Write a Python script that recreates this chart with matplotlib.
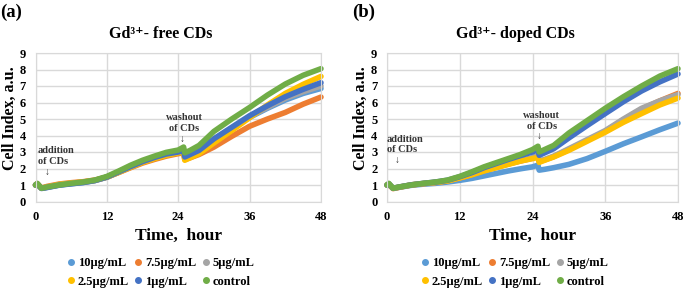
import numpy as np
import matplotlib
matplotlib.use('Agg')
import matplotlib.pyplot as plt
from matplotlib.lines import Line2D

plt.rcParams['font.family'] = ['Liberation Serif', 'DejaVu Sans']
plt.rcParams['font.weight'] = 'bold'

# time points, hours
time = [0, 0.3, 1, 2, 4, 6, 8, 10, 12, 14, 16, 18, 20, 22, 24, 24.9,
        25.1, 26, 27.5, 30, 33, 36, 39, 42, 45, 48]

labels = ['10μg/mL', '7.5μg/mL', '5μg/mL', '2.5μg/mL', '1μg/mL', 'control']
colors = ['#5B9BD5', '#ED7D31', '#A5A5A5', '#FFC000', '#4472C4', '#70AD47']

# (a) Gd3+ free CDs
free_10 = [1.0, 1.05, 0.8, 0.86, 1.0, 1.08, 1.15, 1.27, 1.47, 1.78, 2.1, 2.4, 2.65, 2.85,
           3.0, 3.08, 2.68, 2.83, 3.08, 3.75, 4.45, 5.1, 5.65, 6.15, 6.55, 6.85]
free_7_5 = [1.0, 1.08, 0.82, 0.92, 1.06, 1.14, 1.2, 1.3, 1.48, 1.76, 2.05, 2.33, 2.55, 2.75,
            2.9, 2.95, 2.55, 2.65, 2.85, 3.3, 3.95, 4.56, 5.0, 5.4, 5.9, 6.33]
free_5 = [1.0, 1.05, 0.8, 0.87, 1.02, 1.1, 1.17, 1.28, 1.48, 1.78, 2.1, 2.4, 2.63, 2.83,
          2.98, 3.05, 2.62, 2.77, 3.0, 3.65, 4.4, 5.15, 5.7, 6.25, 6.65, 7.0]
free_2_5 = [1.0, 1.05, 0.8, 0.88, 1.03, 1.11, 1.18, 1.28, 1.48, 1.77, 2.08, 2.37, 2.6, 2.8,
            2.95, 3.0, 2.5, 2.65, 2.9, 3.55, 4.3, 5.08, 5.85, 6.55, 7.1, 7.58]
free_1 = [1.0, 1.05, 0.79, 0.85, 0.99, 1.07, 1.15, 1.27, 1.48, 1.8, 2.12, 2.42, 2.67, 2.88,
          3.0, 3.1, 2.7, 2.85, 3.1, 3.8, 4.5, 5.2, 5.8, 6.35, 6.8, 7.2]
free_ctrl = [1.0, 1.1, 0.8, 0.88, 1.0, 1.1, 1.18, 1.3, 1.52, 1.85, 2.2, 2.5, 2.75, 2.98,
             3.12, 3.3, 2.95, 3.1, 3.4, 4.25, 5.0, 5.7, 6.45, 7.12, 7.65, 8.05]

# (b) Gd3+ doped CDs
doped_10 = [1.0, 1.05, 0.8, 0.86, 0.98, 1.05, 1.1, 1.18, 1.28, 1.4, 1.55, 1.7, 1.85, 1.98,
            2.1, 2.2, 1.9, 1.95, 2.05, 2.25, 2.6, 3.04, 3.5, 3.92, 4.35, 4.75]
doped_7_5 = [1.0, 1.02, 0.78, 0.86, 1.0, 1.08, 1.15, 1.25, 1.43, 1.63, 1.87, 2.07, 2.27, 2.45,
             2.62, 2.75, 2.42, 2.52, 2.72, 3.15, 3.7, 4.25, 4.95, 5.6, 6.1, 6.55]
doped_5 = [1.0, 1.05, 0.8, 0.87, 1.01, 1.09, 1.16, 1.26, 1.45, 1.65, 1.9, 2.1, 2.3, 2.48,
           2.65, 2.8, 2.45, 2.55, 2.75, 3.2, 3.75, 4.3, 5.0, 5.65, 6.1, 6.48]
doped_2_5 = [1.0, 1.05, 0.8, 0.87, 1.01, 1.09, 1.16, 1.25, 1.43, 1.62, 1.85, 2.05, 2.25, 2.45,
             2.6, 2.67, 2.37, 2.5, 2.7, 3.1, 3.65, 4.2, 4.8, 5.33, 5.85, 6.27]
doped_1 = [1.0, 1.07, 0.8, 0.88, 1.01, 1.1, 1.18, 1.29, 1.5, 1.75, 2.05, 2.3, 2.55, 2.78,
           3.0, 3.15, 2.8, 2.95, 3.2, 3.85, 4.6, 5.33, 6.05, 6.7, 7.25, 7.73]
doped_ctrl = [1.0, 1.1, 0.8, 0.88, 1.0, 1.1, 1.18, 1.3, 1.52, 1.8, 2.1, 2.35, 2.6, 2.85,
              3.15, 3.35, 3.0, 3.15, 3.4, 4.15, 4.9, 5.65, 6.35, 7.0, 7.6, 8.05]

panels = [
    ('(a)', 'Gd³⁺- free CDs', [free_10, free_7_5, free_5, free_2_5, free_1, free_ctrl],
     (2.0, 2.15), (25.0, 4.15)),
    ('(b)', 'Gd³⁺- doped CDs', [doped_10, doped_7_5, doped_5, doped_2_5, doped_1, doped_ctrl],
     (1.6, 2.85), (25.5, 4.3)),
]

W, H = 685, 289
fig = plt.figure(figsize=(W / 100, H / 100), dpi=100)
axes_px = [(35.5, 321), (387, 678)]
grid_c = '#d9d9d9'
ann_c = '#333333'

for i, (tag, title, series, add_xy, wash_xy) in enumerate(panels):
    x0, x1 = axes_px[i]
    ax = fig.add_axes([x0 / W, (H - 201.5) / H, (x1 - x0) / W, 148.5 / H])
    for s, c, lab in zip(series, colors, labels):
        ax.plot(time, s, color=c, lw=4.0, solid_capstyle='round', label=lab, clip_on=False)
    ax.set_xlim(0, 48)
    ax.set_ylim(0, 9)
    ax.set_xticks(range(0, 49, 12))
    ax.set_yticks(range(0, 10))
    ax.grid(color=grid_c, lw=1)
    ax.set_axisbelow(True)
    for sp in ax.spines.values():
        sp.set_color(grid_c)
    ax.tick_params(length=0, labelsize=9, pad=7)
    for t in ax.get_xticklabels() + ax.get_yticklabels():
        t.set_fontweight('bold')
    ax.set_xlabel('Time,  hour', fontsize=12.5, fontweight='bold', labelpad=3)
    ax.set_title(title, fontsize=11.5, fontweight='bold', pad=11, x=0.44)

    ax.text(add_xy[0] - 1.6, add_xy[1], 'addition\nof CDs', fontsize=7.5, fontweight='bold',
            ha='left', va='bottom', linespacing=1.25, color=ann_c)
    ax.text(add_xy[0], add_xy[1] - 0.1, '↓', fontsize=7, ha='center', va='top', color=ann_c)
    ax.text(wash_xy[0], wash_xy[1], 'washout\nof CDs', fontsize=7.5, fontweight='bold',
            ha='center', va='bottom', linespacing=1.25, color=ann_c)
    ax.text(wash_xy[0] - 0.4, wash_xy[1] - 0.1, '↓', fontsize=7, ha='center', va='top',
            color=ann_c)

    fig.text((x0 - 34) / W, (H - 118) / H, 'Cell Index, a.u.', rotation=90, fontsize=11.5,
             fontweight='bold', ha='left', va='center')
    fig.text((x0 - 35) / W, (H - 12) / H, tag, fontsize=13.5, fontweight='bold',
             ha='left', va='center')

    # legend fills column by column, so reorder to read row by row
    order = [0, 3, 1, 4, 2, 5]
    handles = [Line2D([], [], ls='none', marker='o', ms=4, color=colors[k]) for k in order]
    ax.legend(handles, [labels[k] for k in order], loc='upper center',
              bbox_to_anchor=(0.44, -0.30), ncol=3, frameon=False, handlelength=0.5,
              handletextpad=0.3, columnspacing=0.5, labelspacing=0.5,
              prop={'size': 9, 'weight': 'bold'})

fig.savefig('out.png', dpi=100)
